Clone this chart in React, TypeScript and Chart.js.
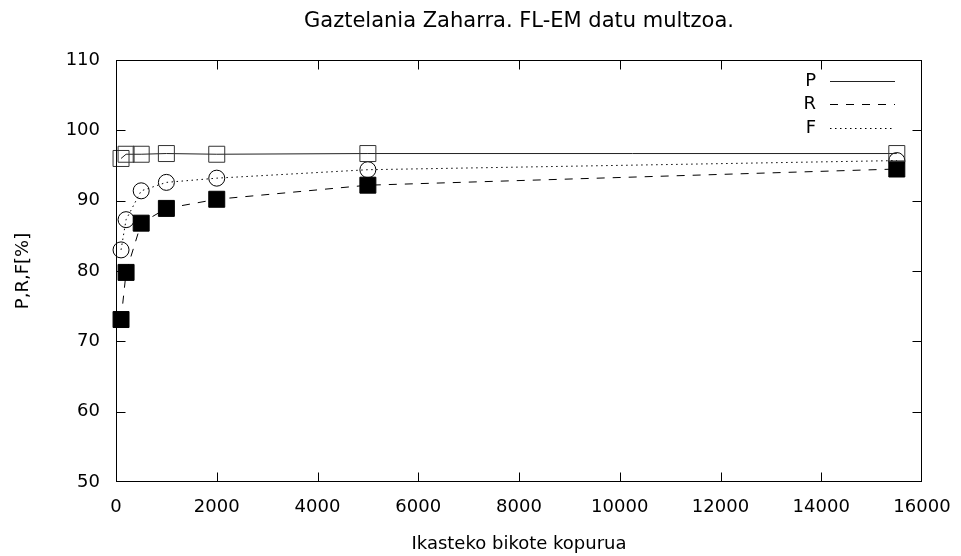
import React, { useEffect, useRef } from "react";
import { Chart, registerables } from "chart.js";

Chart.register(...registerables);

// ---- data ----
const trainingPairs = [100, 200, 500, 1000, 2000, 5000, 15500];
const precision = [96.0, 96.6, 96.6, 96.7, 96.6, 96.7, 96.7];
const recall = [73.1, 79.8, 86.8, 88.9, 90.2, 92.2, 94.5];
const fScore = [83.0, 87.3, 91.4, 92.6, 93.2, 94.4, 95.7];
const seriesLabels = ["P", "R", "F"];
const xTicks = [0, 2000, 4000, 6000, 8000, 10000, 12000, 14000, 16000];
const yTicks = [50, 60, 70, 80, 90, 100, 110];
const titleText = "Gaztelania Zaharra. FL-EM datu multzoa.";
const xTitle = "Ikasteko bikote kopurua";
const yTitle = "P,R,F[%]";

const FONT = '"DejaVu Sans", sans-serif';
const FS = 18;

const framePlugin = {
  id: "gnuFrame",
  afterDraw(chart: any) {
    const { ctx, chartArea, scales } = chart;
    const { left, right, top, bottom } = chartArea;
    const xs = scales.x;
    const ys = scales.y;
    ctx.save();
    ctx.strokeStyle = "#000";
    ctx.lineWidth = 1;
    ctx.setLineDash([]);
    const L = Math.round(left) + 0.5;
    const R = Math.round(right) - 0.5;
    const T = Math.round(top) + 0.5;
    const B = Math.round(bottom) - 0.5;
    ctx.strokeRect(L, T, R - L, B - T);
    const tl = 9;
    ctx.beginPath();
    xTicks.slice(1, -1).forEach((v) => {
      const px = Math.round(xs.getPixelForValue(v)) + 0.5;
      ctx.moveTo(px, B);
      ctx.lineTo(px, B - tl);
      ctx.moveTo(px, T);
      ctx.lineTo(px, T + tl);
    });
    yTicks.slice(1, -1).forEach((v) => {
      const py = Math.round(ys.getPixelForValue(v)) + 0.5;
      ctx.moveTo(L, py);
      ctx.lineTo(L + tl, py);
      ctx.moveTo(R, py);
      ctx.lineTo(R - tl, py);
    });
    ctx.stroke();

    // title
    ctx.fillStyle = "#000";
    ctx.font = `21px ${FONT}`;
    ctx.textAlign = "center";
    ctx.textBaseline = "middle";
    ctx.fillText(titleText, (left + right) / 2, 22);

    // legend
    ctx.font = `${FS}px ${FONT}`;
    const rows = [81, 104, 128];
    chart.data.datasets.forEach((ds: any, i: number) => {
      const yy = rows[i];
      ctx.textAlign = "right";
      ctx.fillText(ds.label, 816, yy);
      ctx.beginPath();
      ctx.setLineDash(ds.borderDash || []);
      ctx.strokeStyle = ds.borderColor;
      ctx.lineWidth = ds.borderWidth;
      ctx.moveTo(830, Math.round(yy) + 0.5);
      ctx.lineTo(895, Math.round(yy) + 0.5);
      ctx.stroke();
    });
    ctx.restore();
  },
};

export default function App() {
  const ref = useRef<HTMLCanvasElement>(null);
  useEffect(() => {
    if (!ref.current) return;
    const chart = new Chart(ref.current, {
      type: "line",
      data: {
        datasets: [
          {
            label: seriesLabels[0],
            data: trainingPairs.map((x, i) => ({ x, y: precision[i] })),
            borderColor: "#222",
            borderWidth: 1,
            pointStyle: "rect",
            pointRadius: 11.3,
            pointBorderColor: "#333",
            pointBackgroundColor: "rgba(0,0,0,0)",
            pointBorderWidth: 1,
            clip: false,
            tension: 0,
          },
          {
            label: seriesLabels[1],
            data: trainingPairs.map((x, i) => ({ x, y: recall[i] })),
            borderColor: "#000",
            borderWidth: 1,
            borderDash: [8, 8],
            pointStyle: "rect",
            pointRadius: 11.3,
            pointBorderColor: "#000",
            pointBackgroundColor: "#000",
            pointBorderWidth: 1,
            clip: false,
            tension: 0,
          },
          {
            label: seriesLabels[2],
            data: trainingPairs.map((x, i) => ({ x, y: fScore[i] })),
            borderColor: "#000",
            borderWidth: 1,
            borderDash: [1.5, 3.5],
            pointStyle: "circle",
            pointRadius: 8,
            pointBorderColor: "#000",
            pointBackgroundColor: "rgba(0,0,0,0)",
            pointBorderWidth: 1,
            clip: false,
            tension: 0,
          },
        ] as any,
      },
      options: {
        animation: false,
        responsive: false,
        devicePixelRatio: 1,
        color: "#000",
        layout: { padding: { top: 60, right: 39, left: 0, bottom: 0 } },
        plugins: {
          legend: { display: false },
          title: { display: false },
          tooltip: { enabled: false },
        },
        scales: {
          x: {
            type: "linear",
            min: 0,
            max: 16000,
            afterFit: (s: any) => {
              s.height = 74;
              s.paddingLeft = 0;
              s.paddingRight = 0;
            },
            afterBuildTicks: (s: any) => {
              s.ticks = xTicks.map((v) => ({ value: v }));
            },
            ticks: {
              color: "#000",
              font: { family: FONT, size: FS },
              padding: 15,
              maxRotation: 0,
              autoSkip: false,
              callback: (v: any) => String(v),
            },
            grid: { display: false, drawTicks: false },
            border: { display: false },
            title: {
              display: true,
              text: xTitle,
              color: "#000",
              font: { family: FONT, size: FS },
              padding: { top: 0, bottom: 1 },
            },
          },
          y: {
            type: "linear",
            min: 50,
            max: 110,
            afterFit: (s: any) => {
              s.width = 116;
              s.paddingTop = 0;
              s.paddingBottom = 0;
            },
            afterBuildTicks: (s: any) => {
              s.ticks = yTicks.map((v) => ({ value: v }));
            },
            ticks: {
              color: "#000",
              font: { family: FONT, size: FS },
              padding: 16,
              autoSkip: false,
              callback: (v: any) => String(v),
            },
            grid: { display: false, drawTicks: false },
            border: { display: false },
            title: {
              display: true,
              text: yTitle,
              color: "#000",
              font: { family: FONT, size: FS },
              padding: { top: 13, bottom: 0 },
            },
          },
        },
      },
      plugins: [framePlugin],
    });
    return () => chart.destroy();
  }, []);
  return (
    <div style={{ position: "fixed", left: 0, top: 0, width: 961, height: 556, background: "#fff" }}>
      <canvas ref={ref} width={961} height={556} />
    </div>
  );
}
